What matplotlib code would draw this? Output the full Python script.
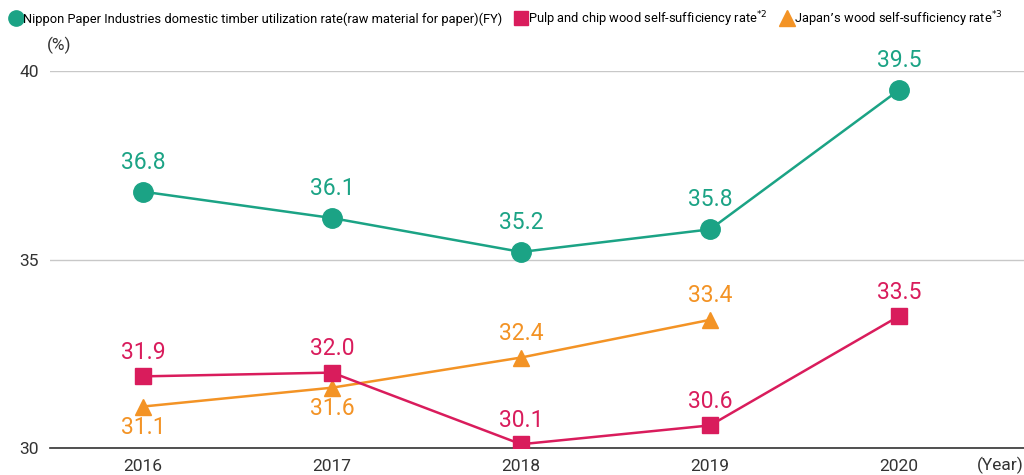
import matplotlib.pyplot as plt
from matplotlib.lines import Line2D

# chart data
years = [2016, 2017, 2018, 2019, 2020]
nippon = [36.8, 36.1, 35.2, 35.8, 39.5]
pulp_years = [2016, 2017, 2018, 2019, 2020]
pulp = [31.9, 32.0, 30.1, 30.6, 33.5]
japan_years = [2016, 2017, 2018, 2019]
japan = [31.1, 31.6, 32.4, 33.4]
japan_label_pos = ["below", "below", "above", "above"]

names = ["Nippon Paper Industries domestic timber utilization rate(raw material for paper)(FY)",
         "Pulp and chip wood self-sufficiency rate$^{*2}$",
         "Japan\u2019s wood self-sufficiency rate$^{*3}$"]

TEAL = "#1ba385"
RED = "#d91c5c"
ORANGE = "#f39325"

plt.rcParams['font.family'] = ['Roboto', 'DejaVu Sans']

fig = plt.figure(figsize=(10.24, 4.75), dpi=100)
ax = fig.add_axes([50 / 1024, 27 / 475, 974 / 1024, 377 / 475])

ax.plot(years, nippon, color=TEAL, lw=1.8, marker="o", ms=14, zorder=3)
ax.plot(pulp_years, pulp, color=RED, lw=1.8, marker="s", ms=11, zorder=3)
ax.plot(japan_years, japan, color=ORANGE, lw=1.8, marker="^", ms=12, zorder=2)

for x, y in zip(years, nippon):
    ax.annotate(f"{y:.1f}", (x, y), xytext=(0, 13), textcoords="offset points",
                ha="center", va="bottom", color=TEAL, fontsize=16.5, annotation_clip=False)
for x, y in zip(pulp_years, pulp):
    ax.annotate(f"{y:.1f}", (x, y), xytext=(0, 9), textcoords="offset points",
                ha="center", va="bottom", color=RED, fontsize=16.5, annotation_clip=False)
for x, y, p in zip(japan_years, japan, japan_label_pos):
    if p == "above":
        ax.annotate(f"{y:.1f}", (x, y), xytext=(0, 9), textcoords="offset points",
                    ha="center", va="bottom", color=ORANGE, fontsize=16.5, annotation_clip=False)
    else:
        ax.annotate(f"{y:.1f}", (x, y), xytext=(0, -7), textcoords="offset points",
                    ha="center", va="top", color=ORANGE, fontsize=16.5, annotation_clip=False)

ax.set_xlim(2015.508, 2020.66)
ax.set_ylim(30, 40)
ax.set_xticks(years)
ax.set_yticks([30, 35, 40])
ax.tick_params(length=0, labelsize=12.5, colors="#333333", pad=8)
ax.grid(axis="y", color="#c8c8c8", lw=1)
ax.set_axisbelow(True)
for s in ["top", "right", "left"]:
    ax.spines[s].set_visible(False)
ax.spines["bottom"].set_color("#333333")
ax.spines["bottom"].set_linewidth(1.2)

fig.text(47 / 1024, 1 - 45 / 475, "(%)", fontsize=12.5, color="#333333", ha="left", va="center")
fig.text(1.0, 1 - 465 / 475, "(Year)", fontsize=12.5, color="#333333", ha="right", va="center")

handles = [Line2D([], [], ls="none", marker="o", ms=11, color=TEAL),
           Line2D([], [], ls="none", marker="s", ms=10, color=RED),
           Line2D([], [], ls="none", marker="^", ms=11, color=ORANGE)]
fig.legend(handles, names, loc="upper left", bbox_to_anchor=(0.0, 1.0), ncol=3, frameon=False,
           fontsize=9.3, handletextpad=0.0, columnspacing=0.9, handlelength=1.1, borderaxespad=0.3)

fig.savefig("out.png", dpi=100)
